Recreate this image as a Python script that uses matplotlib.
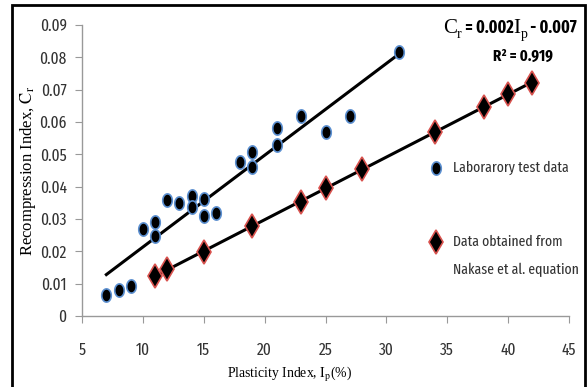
import numpy as np
import matplotlib
matplotlib.use("Agg")
import matplotlib.pyplot as plt
from matplotlib.path import Path
from matplotlib.patches import Rectangle
from matplotlib import font_manager as fm

# ---- data ----
lab_ip = [7, 8, 9, 10, 11, 11, 12, 13, 14, 14, 15, 15, 16, 18, 19, 19, 21, 21, 23, 25, 27, 31]
lab_cr = [0.0065, 0.0081, 0.0093, 0.027, 0.029, 0.0248, 0.0359, 0.0349, 0.0371, 0.0338,
          0.0363, 0.031, 0.0318, 0.0477, 0.0508, 0.0462, 0.058, 0.0529, 0.062, 0.057, 0.062, 0.0817]
nak_ip = [11, 12, 15, 19, 23, 25, 28, 34, 38, 40, 42]
nak_cr = [0.0124, 0.0144, 0.0199, 0.0278, 0.0354, 0.0395, 0.0454, 0.057, 0.0647, 0.0686, 0.0722]
xticks = [5, 10, 15, 20, 25, 30, 35, 40, 45]
yticks = [0, 0.01, 0.02, 0.03, 0.04, 0.05, 0.06, 0.07, 0.08, 0.09]
ytick_labels = ["0", "0.01", "0.02", "0.03", "0.04", "0.05", "0.06", "0.07", "0.08", "0.09"]

names = {f.name for f in fm.fontManager.ttflist}
def pick(cands, default):
    for c in cands:
        if c in names:
            return c
    return default
cond = pick(["Fira Sans Extra Condensed", "Roboto Condensed", "Sofia Sans Extra Condensed",
             "Fira Sans Condensed", "PT Sans Narrow", "Archivo Narrow", "Carlito"], "DejaVu Sans")
serif = pick(["Liberation Serif", "Tinos"], "DejaVu Serif")
plt.rcParams["mathtext.fontset"] = "stix"

W, H = 587, 387
fig = plt.figure(figsize=(W/100, H/100), dpi=100)
renderer = fig.canvas.get_renderer()

def fit_size(s, target_px, base=14, **kw):
    t = fig.text(0, 0, s, fontsize=base, **kw)
    w = t.get_window_extent(renderer).width
    t.remove()
    return base * target_px / w

fig.patches.append(Rectangle((12/W, -0.01), (585-12)/W, 1 - 5/H + 0.01,
                             transform=fig.transFigure, fill=False, ec="black", lw=2))
ax = fig.add_axes([82/W, 1-316/H, (569-82)/W, (316-25)/H])

t = np.linspace(0, 2*np.pi, 60)
ell = Path(np.column_stack([0.72*np.cos(t), np.sin(t)]))

# trend lines
p1 = np.polyfit(lab_ip, lab_cr, 1)
xs1 = np.array([min(lab_ip), max(lab_ip)])
ax.plot(xs1, np.polyval(p1, xs1), color="black", lw=2.2, zorder=2)
p2 = np.polyfit(nak_ip, nak_cr, 1)
xs2 = np.array([min(nak_ip), max(nak_ip)])
ax.plot(xs2, np.polyval(p2, xs2), color="black", lw=2.2, zorder=2)

ax.plot(lab_ip, lab_cr, linestyle="none", marker=ell, ms=9.5, mfc="black",
        mec="#5b8fd0", mew=1.2, zorder=3)
ax.plot(nak_ip, nak_cr, linestyle="none", marker="d", ms=12, mfc="black",
        mec="#d9534f", mew=1.2, zorder=3)

ax.set_xlim(5, 45)
ax.set_ylim(0, 0.09)
ax.set_xticks(xticks)
ax.set_yticks(yticks)
ax.set_yticklabels(ytick_labels)
for s in ["top", "right"]:
    ax.spines[s].set_visible(False)
for s in ["left", "bottom"]:
    ax.spines[s].set_color("#999999")
    ax.spines[s].set_linewidth(1)
tick_fs = min(fit_size("0.09", 27, family=cond), 16)
ax.tick_params(direction="out", length=5, color="#999999", labelsize=tick_fs)
ax.tick_params(axis="y", pad=6)
ax.tick_params(axis="x", pad=14)
for lab in ax.get_xticklabels() + ax.get_yticklabels():
    lab.set_fontfamily(cond)
    lab.set_color("#333333")

xl_fs = fit_size("Plasticity Index, $\\mathrm{I_p}$(%)", 125, family=serif)
ax.set_xlabel("Plasticity Index, $\\mathrm{I_p}$(%)", family=serif, fontsize=xl_fs)
ax.xaxis.set_label_coords((290-82)/487, -(374-316)/291)
ax.xaxis.label.set_va("center")
ax.set_ylabel("Recompression Index, $\\mathrm{C_r}$", family=serif, fontsize=12)
ax.yaxis.set_label_coords(-(82-28)/487, 0.5)
ax.yaxis.label.set_va("center")

# equation built from pieces: (text, family, size, weight, baseline offset px)
pieces = [("C", serif, 15, "normal", 0), ("r", serif, 10, "normal", -5),
          (" = 0.002", cond, 12.5, "bold", 0), ("I", serif, 15, "normal", 0),
          ("p", serif, 10, "normal", -5), (" - 0.007", cond, 12.5, "bold", 0)]
base_y = H - 33
widths = []
for s, fam, fs, wt, dy in pieces:
    tt = fig.text(0, 0, s, family=fam, fontsize=fs, fontweight=wt)
    widths.append(tt.get_window_extent(renderer).width)
    tt.remove()
x = 577 - sum(widths)
for (s, fam, fs, wt, dy), w in zip(pieces, widths):
    fig.text(x/W, (base_y + dy)/H, s, family=fam, fontsize=fs, fontweight=wt,
             va="baseline", ha="left")
    x += w
r2_fs = min(fit_size("R² = 0.919", 60, family=cond, fontweight="bold"), 16)
fig.text(523/W, 1-56/H, "R² = 0.919", ha="center", va="center",
         family=cond, fontsize=r2_fs, fontweight="bold")

# legend
leg_fs = min(fit_size("Laborarory test data", 115, family=cond), 16)
fig.lines.append(plt.Line2D([436/W], [1-168/H], transform=fig.transFigure, marker=ell, ms=9.5,
                            mfc="black", mec="#5b8fd0", mew=1.2, linestyle="none"))
fig.text(453/W, 1-168/H, "Laborarory test data", va="center", family=cond, fontsize=leg_fs, color="#333333")
fig.lines.append(plt.Line2D([436/W], [1-242/H], transform=fig.transFigure, marker="d", ms=12,
                            mfc="black", mec="#d9534f", mew=1.2, linestyle="none"))
fig.text(453/W, 1-242/H, "Data obtained from", va="center", family=cond, fontsize=leg_fs, color="#333333")
fig.text(453/W, 1-270/H, "Nakase et al. equation", va="center", family=cond, fontsize=leg_fs, color="#333333")

fig.savefig("out.png", dpi=100)
